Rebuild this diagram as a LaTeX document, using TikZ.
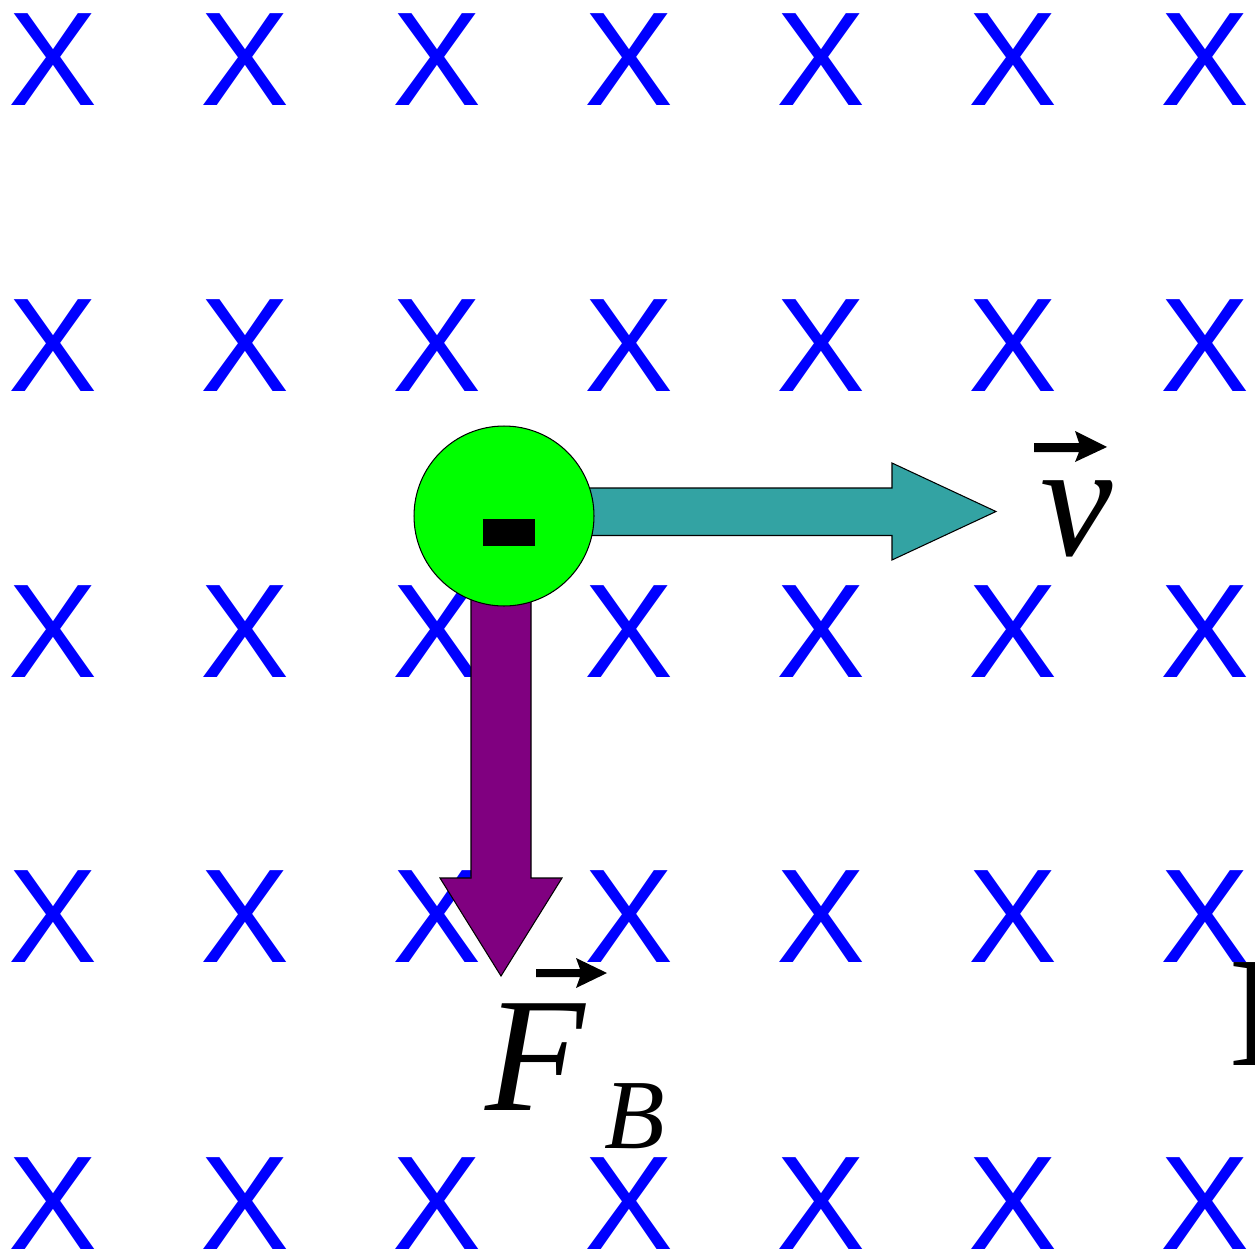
\documentclass[tikz,border=0pt]{standalone}
\usepackage{fontspec}
\newfontfamily\xfont{Liberation Sans}
\newfontfamily\tfont{Liberation Serif}
\definecolor{fieldblue}{RGB}{0,0,255}
\definecolor{tealarrow}{RGB}{51,163,163}
\definecolor{purplearrow}{RGB}{128,0,128}
\definecolor{chargegreen}{RGB}{0,255,0}
\tikzset{
  fieldx/.style={anchor=base, inner sep=0pt, text=fieldblue, font=\xfont\fontsize{76}{80}\selectfont},
  biglabel/.style={anchor=base, inner sep=0pt, font=\tfont\itshape\fontsize{92.8}{100}\selectfont},
  sublabel/.style={anchor=base, inner sep=0pt, font=\tfont\itshape\fontsize{56.4}{60}\selectfont},
  vecbar/.style={fill=black, draw=none},
  blockarrow/.style={draw=black, line width=0.6pt, line join=miter},
}
\begin{document}
\begin{tikzpicture}[x=0.02cm, y=-0.02cm]
\useasboundingbox (0,0) rectangle (1255,1254);
\clip (0,0) rectangle (1255,1254);
% field crosses
\foreach \c [count=\i] in {53,245,437,629,821,1013,1205}{
  \foreach \r [count=\j] in {105,391,677,962,1249}{
    \node[fieldx] (x\i\j) at (\c,\r) {X};
  }
}
% clipped label at right edge
\node[anchor=base west, inner sep=0pt, font=\tfont\fontsize{89.5}{95}\selectfont] (bfield) at (1229,1065) {B};
% force arrow
\coordinate (q0) at (504,516);
\fill[purplearrow, blockarrow] (471,516) -- (471,878) -- (440,878) -- (501,976) -- (562,878) -- (531,878) -- (531,516) -- cycle;
% velocity arrow
\fill[tealarrow, blockarrow] (504,488) -- (892,488) -- (892,463) -- (996,511.5) -- (892,560) -- (892,535.5) -- (504,535.5) -- cycle;
% charge
\node[circle, draw=black, line width=0.6pt, fill=chargegreen, minimum size=3.6cm, inner sep=0pt] (q) at (q0) {};
\fill[black] (483,519) rectangle (535,546);
% labels
\node[biglabel] (v) at (1077,555) {v};
\fill[vecbar] (1034,443) -- (1079,443) -- (1075,431) -- (1107,447) -- (1075,462) -- (1079,452) -- (1034,452) -- cycle;
\node[biglabel] (F) at (535,1110) {F};
\node[sublabel] (Bsub) at (635,1148) {B};
\fill[vecbar] (536,969) -- (580,969) -- (576,958) -- (607,973) -- (576,988) -- (580,977) -- (536,977) -- cycle;
\end{tikzpicture}
\end{document}
